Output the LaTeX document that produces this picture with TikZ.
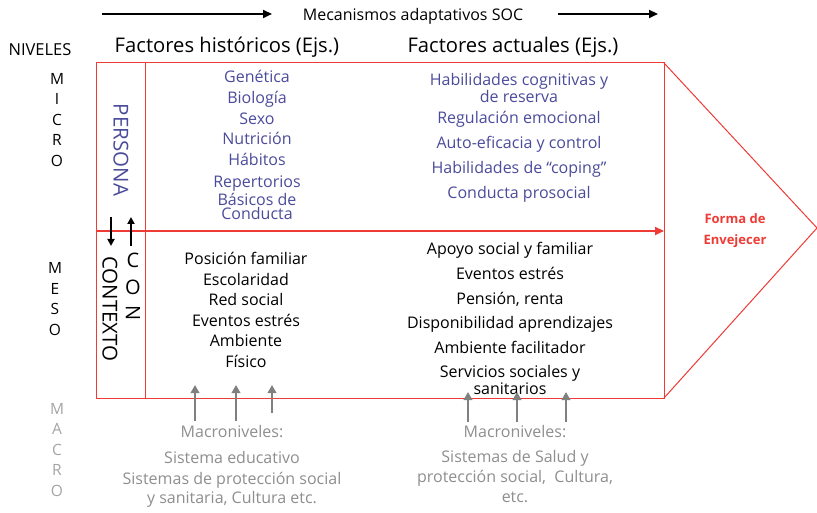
\documentclass[tikz,border=0pt]{standalone}
\usepackage{fontspec}
\setmainfont{Open Sans}
\usetikzlibrary{arrows.meta,positioning}
\definecolor{SocRed}{HTML}{EE3B36}
\definecolor{SocBlue}{HTML}{4B4B9B}
\definecolor{SocGray}{HTML}{8E8E8E}
\definecolor{SocLight}{HTML}{A4A4A4}
\definecolor{SocArrow}{HTML}{808080}

\tikzset{
  levelbox/.style={draw=SocRed,line width=1pt},
  hdr/.style={font=\fontsize{20.2}{20}\selectfont},
  bluelist/.style={text=SocBlue,align=center,font=\fontsize{16}{20.7}\selectfont},
  bluetight/.style={text=SocBlue,align=center,font=\fontsize{16}{14.5}\selectfont},
  blacklist/.style={align=center,font=\fontsize{16}{20.6}\selectfont},
  graylist/.style={text=SocGray,align=center,font=\fontsize{16}{19.5}\selectfont},
  letters/.style={align=center,font=\fontsize{15.5}{20.5}\selectfont},
  sidelabel/.style={rotate=-90,font=\fontsize{20.5}{20}\selectfont},
  macroarrow/.style={draw=SocArrow,line width=2.8pt,-{Triangle[length=8pt,width=8.5pt]}},
}

\begin{document}
\begin{tikzpicture}[x=1pt,y=-1pt]
  \useasboundingbox (0,0) rectangle (817,513);

  % titulo y flechas SOC
  \node[font=\fontsize{16}{16}\selectfont] (soc) at (413,16) {Mecanismos adaptativos SOC};
  \coordinate (socL) at (102,14);
  \coordinate (socLend) at (272,14);
  \coordinate (socR) at (558,14);
  \coordinate (socRend) at (658,14);
  \draw[line width=2.2pt,-{Triangle[length=9pt,width=8pt]}] (socL) -- (socLend);
  \draw[line width=2.2pt,-{Triangle[length=9pt,width=8pt]}] (socR) -- (socRend);

  % cabeceras
  \node[font=\fontsize{16.5}{16.5}\selectfont] (niveles) at (40,50) {NIVELES};
  \node[hdr] (hist) at (227,47) {Factores históricos (Ejs.)};
  \node[hdr] (act) at (513,47) {Factores actuales (Ejs.)};

  % niveles
  \node[letters] (micro) at (57,120) {M\\I\\C\\R\\O};
  \node[letters] (meso) at (55,299) {M\\E\\S\\O};
  \node[letters,text=SocLight] (macro) at (57,450) {M\\A\\C\\R\\O};

  % marco
  \draw[levelbox] (96,63) rectangle (664,398);
  \draw[levelbox] (145,63) -- (145,398);
  \draw[SocRed,line width=1pt] (664,63) -- (817,228) -- (664,398);
  \coordinate (midL) at (96,231);
  \coordinate (midR) at (664,231);
  \draw[SocRed,line width=2.4pt,-{Triangle[length=9pt,width=8pt]}] (midL) -- (midR);

  % persona con contexto
  \node[sidelabel,text=SocBlue] (persona) at (121,150) {PERSONA};
  \node[sidelabel] (contexto) at (110,309) {CONTEXTO};
  \node[font=\fontsize{20}{20}\selectfont] (conC) at (133,260) {C};
  \node[font=\fontsize{20}{20}\selectfont] (conO) at (133,287) {O};
  \node[font=\fontsize{20}{20}\selectfont,rotate=-90] (conN) at (133,313) {N};
  \coordinate (dnTop) at (111,217);
  \coordinate (dnBot) at (111,246);
  \coordinate (upBot) at (131,246);
  \coordinate (upTop) at (131,217);
  \draw[line width=1.8pt,-{Triangle[length=7pt,width=7pt]}] (dnTop) -- (dnBot);
  \draw[line width=1.8pt,-{Triangle[length=7pt,width=7pt]}] (upBot) -- (upTop);

  % micro: factores historicos y actuales
  \node[bluelist] (histmicro) at (257,118) {Genética\\Biología\\Sexo\\Nutrición\\Hábitos};
  \node[bluetight] (repert) at (257,198) {Repertorios\\Básicos de\\Conducta};
  \node[bluetight] (habcog) at (519,88) {Habilidades cognitivas y\\de reserva};
  \node[bluelist,font=\fontsize{16}{25}\selectfont] (actmicro) at (519,157)
    {Regulación emocional\\Auto-eficacia y control\\Habilidades de “coping”\\Conducta prosocial};

  % meso: factores historicos y actuales
  \node[blacklist] (histmeso) at (246,310)
    {Posición familiar\\Escolaridad\\Red social\\Eventos estrés\\Ambiente\\Físico};
  \node[blacklist,font=\fontsize{16}{24.8}\selectfont] (actmeso) at (510,298)
    {Apoyo social y familiar\\Eventos estrés\\Pensión, renta\\Disponibilidad aprendizajes\\Ambiente facilitador};
  \node[blacklist,font=\fontsize{16}{14}\selectfont] (servicios) at (510,380) {Servicios sociales y\\sanitarios};

  % resultado
  \node[text=SocRed,align=center,font=\bfseries\fontsize{13}{21}\selectfont] (forma) at (735,231)
    {Forma de\\Envejecer};

  % macro
  \node[graylist] (macL) at (232,432) {Macroniveles:};
  \node[graylist] (eduL) at (232,457) {Sistema educativo};
  \node[graylist] (protL) at (232,490) {Sistemas de protección social\\y sanitaria, Cultura etc.};
  \node[graylist] (macR) at (515,432) {Macroniveles:};
  \node[graylist,font=\fontsize{16}{20}\selectfont] (saludR) at (515,477)
    {Sistemas de Salud y\\protección social,\ \ Cultura,\\etc.};

  \foreach \x/\ya/\yb [count=\i] in {195/421/385,236/421/385,272/413/385,468/422/392,517/422/392,566/422/392}{
    \coordinate (mb\i) at (\x,\ya);
    \coordinate (mt\i) at (\x,\yb);
    \draw[macroarrow] (mb\i) -- (mt\i);
  }
\end{tikzpicture}
\end{document}
